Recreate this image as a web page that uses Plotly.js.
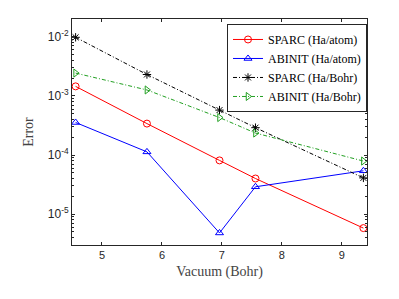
<!DOCTYPE html>
<html><head><meta charset="utf-8">
<script src="https://cdn.plot.ly/plotly-3.0.1.min.js"></script>
<style>html,body{margin:0;padding:0;background:#fff}#c{width:399px;height:299px}</style>
</head><body><div id="c"></div>
<script>
const vacuum = [4.56, 5.75, 6.96, 7.56, 9.36];
const sparcAtom = [1.45e-3, 3.4e-4, 8.1e-5, 4.0e-5, 5.8e-6];
const abinitAtom = [3.55e-4, 1.13e-4, 4.8e-6, 2.9e-5, 5.4e-5];
const sparcBohr = [9.8e-3, 2.3e-3, 5.75e-4, 2.9e-4, 4.1e-5];
const abinitBohr = [2.43e-3, 1.26e-3, 4.3e-4, 2.35e-4, 7.9e-5];
const names = ["SPARC (Ha/atom)", "ABINIT (Ha/atom)", "SPARC (Ha/Bohr)", "ABINIT (Ha/Bohr)"];
const xTicks = [5, 6, 7, 8, 9];
const yTicks = [1e-5, 1e-4, 1e-3, 1e-2];
const yTickText = ["10<sup>-5</sup>", "10<sup>-4</sup>", "10<sup>-3</sup>", "10<sup>-2</sup>"];

const axisCol = '#262626';
const serif = 'Liberation Serif, DejaVu Serif, serif';
const sans = 'Liberation Sans, Arial, sans-serif';
const dashDot = '4px,2px,1px,2px';
function tr(y, name, color, dash, symbol) {
  return {x: vacuum, y: y, name: name, type: 'scatter', mode: 'lines+markers',
    line: {color: color, width: 1, dash: dash},
    marker: {symbol: symbol, size: 7, color: color, line: {color: color, width: 1}}};
}
const data = [
  tr(sparcAtom, names[0], '#ff0000', 'solid', 'circle-open'),
  tr(abinitAtom, names[1], '#0000ff', 'solid', 'triangle-up-open'),
  tr(sparcBohr, names[2], '#000000', dashDot, 'asterisk-open'),
  tr(abinitBohr, names[3], '#22a022', dashDot, 'triangle-right-open')
];
const layout = {
  width: 399, height: 299,
  margin: {l: 72, r: 32, t: 19, b: 54},
  paper_bgcolor: '#fff', plot_bgcolor: '#fff',
  showlegend: true,
  legend: {x: 1, xanchor: 'right', y: 0.978, yanchor: 'top', bgcolor: '#fff',
    bordercolor: axisCol, borderwidth: 1,
    font: {family: serif, size: 12, color: '#000'},
    tracegroupgap: 0, itemwidth: 30},
  xaxis: {range: [4.5, 9.42], tickvals: xTicks, ticks: 'inside', ticklen: 3,
    tickcolor: axisCol, showline: true, linecolor: axisCol, linewidth: 1, mirror: 'allticks',
    showgrid: false, zeroline: false,
    tickfont: {family: sans, size: 11, color: axisCol},
    title: {text: 'Vacuum (Bohr)', font: {family: serif, size: 14, color: '#444'}, standoff: 5}},
  yaxis: {type: 'log', range: [Math.log10(3e-6), Math.log10(2e-2)], tickvals: yTicks, ticktext: yTickText,
    ticks: 'inside', ticklen: 3, tickcolor: axisCol,
    showline: true, linecolor: axisCol, linewidth: 1, mirror: 'allticks',
    showgrid: false, zeroline: false,
    minor: {ticks: 'inside', ticklen: 2, tickcolor: axisCol, dtick: 'D1', showgrid: false},
    tickfont: {family: sans, size: 12, color: axisCol},
    title: {text: 'Error', font: {family: serif, size: 14, color: '#444'}, standoff: 10}}
};
Plotly.newPlot('c', data, layout, {displayModeBar: false, staticPlot: true});
</script></body></html>
